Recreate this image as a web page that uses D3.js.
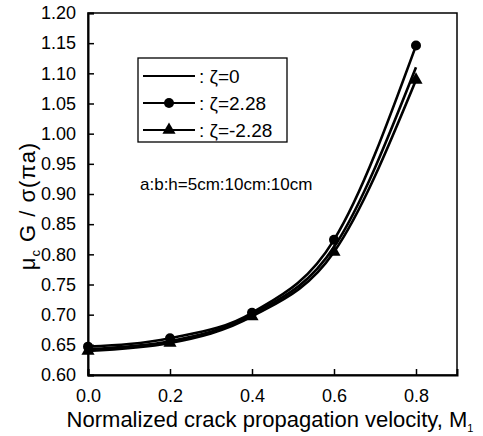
<!DOCTYPE html>
<html><head><meta charset="utf-8">
<script src="https://cdn.jsdelivr.net/npm/d3@7"></script>
<style>body{margin:0;background:#fff}svg{display:block}text{font-family:"Liberation Sans",Arial,sans-serif;fill:#000}</style>
</head><body>
<svg id="c" width="483" height="436"></svg>
<script>
const xValues = [0.0, 0.2, 0.4, 0.6, 0.8];
const zeta0 = [0.643, 0.656, 0.700, 0.812, 1.110];
const zetaPos = [0.647, 0.661, 0.703, 0.824, 1.146];
const zetaNeg = [0.640, 0.653, 0.697, 0.804, 1.089];
const xTicks = [0.0, 0.2, 0.4, 0.6, 0.8];
const yTicks = [0.60,0.65,0.70,0.75,0.80,0.85,0.90,0.95,1.00,1.05,1.10,1.15,1.20];
const legendLabels = [": ζ=0", ": ζ=2.28", ": ζ=-2.28"];

const svg = d3.select("#c");
const L=88, R=457, T=13, B=375;
const x = d3.scaleLinear().domain([0,0.9]).range([L,R]);
const y = d3.scaleLinear().domain([0.6,1.2]).range([B,T]);

svg.append("rect").attr("x",L).attr("y",T).attr("width",R-L).attr("height",B-T)
  .attr("fill","none").attr("stroke","#000").attr("stroke-width",1.5);

const xa = svg.append("g").attr("transform",`translate(0,${B})`)
  .call(d3.axisBottom(x).tickValues(xTicks).tickSize(-6).tickPadding(14).tickFormat(d3.format(".1f")));
const ya = svg.append("g").attr("transform",`translate(${L},0)`)
  .call(d3.axisLeft(y).tickValues(yTicks).tickSize(-6).tickPadding(12).tickFormat(d3.format(".2f")));
[xa,ya].forEach(a=>{a.select(".domain").attr("stroke","#000").attr("stroke-width",2);
  a.selectAll(".tick line").attr("stroke","#000").attr("stroke-width",1.5);
  a.selectAll("text").style("font-size","18px").attr("fill","#000");});

const line = d3.line().x((d,i)=>x(xValues[i])).y(d=>y(d)).curve(d3.curveMonotoneX);
[zeta0,zetaPos,zetaNeg].forEach(s=>{
  svg.append("path").attr("d",line(s)).attr("fill","none").attr("stroke","#000").attr("stroke-width",2.6);
});
svg.selectAll(".circ").data(zetaPos).enter().append("circle")
  .attr("cx",(d,i)=>x(xValues[i])).attr("cy",d=>y(d)).attr("r",5).attr("fill","#000");
const tri = d3.symbol().type(d3.symbolTriangle).size(75);
svg.selectAll(".tri").data(zetaNeg).enter().append("path").attr("d",tri)
  .attr("transform",(d,i)=>`translate(${x(xValues[i])},${y(d)})`).attr("fill","#000");

// legend
svg.append("rect").attr("x",138).attr("y",58).attr("width",149).attr("height",84)
  .attr("fill","#fff").attr("stroke","#000").attr("stroke-width",1.3);
const rows=[76,103,130];
rows.forEach((ry,i)=>{
  svg.append("line").attr("x1",143).attr("x2",195).attr("y1",ry).attr("y2",ry).attr("stroke","#000").attr("stroke-width",2);
  if(i===1) svg.append("circle").attr("cx",169).attr("cy",ry).attr("r",5).attr("fill","#000");
  if(i===2) svg.append("path").attr("d",tri).attr("transform",`translate(169,${ry})`).attr("fill","#000");
  svg.append("text").attr("x",199).attr("y",ry+7).style("font-size","19px").text(legendLabels[i]);
});

svg.append("text").attr("x",140).attr("y",190).style("font-size","17px").text("a:b:h=5cm:10cm:10cm");

svg.append("text").attr("x",270).attr("y",427).attr("text-anchor","middle").style("font-size","22px")
  .html('Normalized crack propagation velocity, M<tspan dy="5" font-size="11">1</tspan>');
svg.append("text").attr("transform","translate(35,206) rotate(-90)").attr("text-anchor","middle")
  .style("font-size","22px").style("letter-spacing","1px")
  .html('μ<tspan dy="5" font-size="13">c</tspan><tspan dy="-5"> G / σ(πa)</tspan>');
</script>
</body></html>
